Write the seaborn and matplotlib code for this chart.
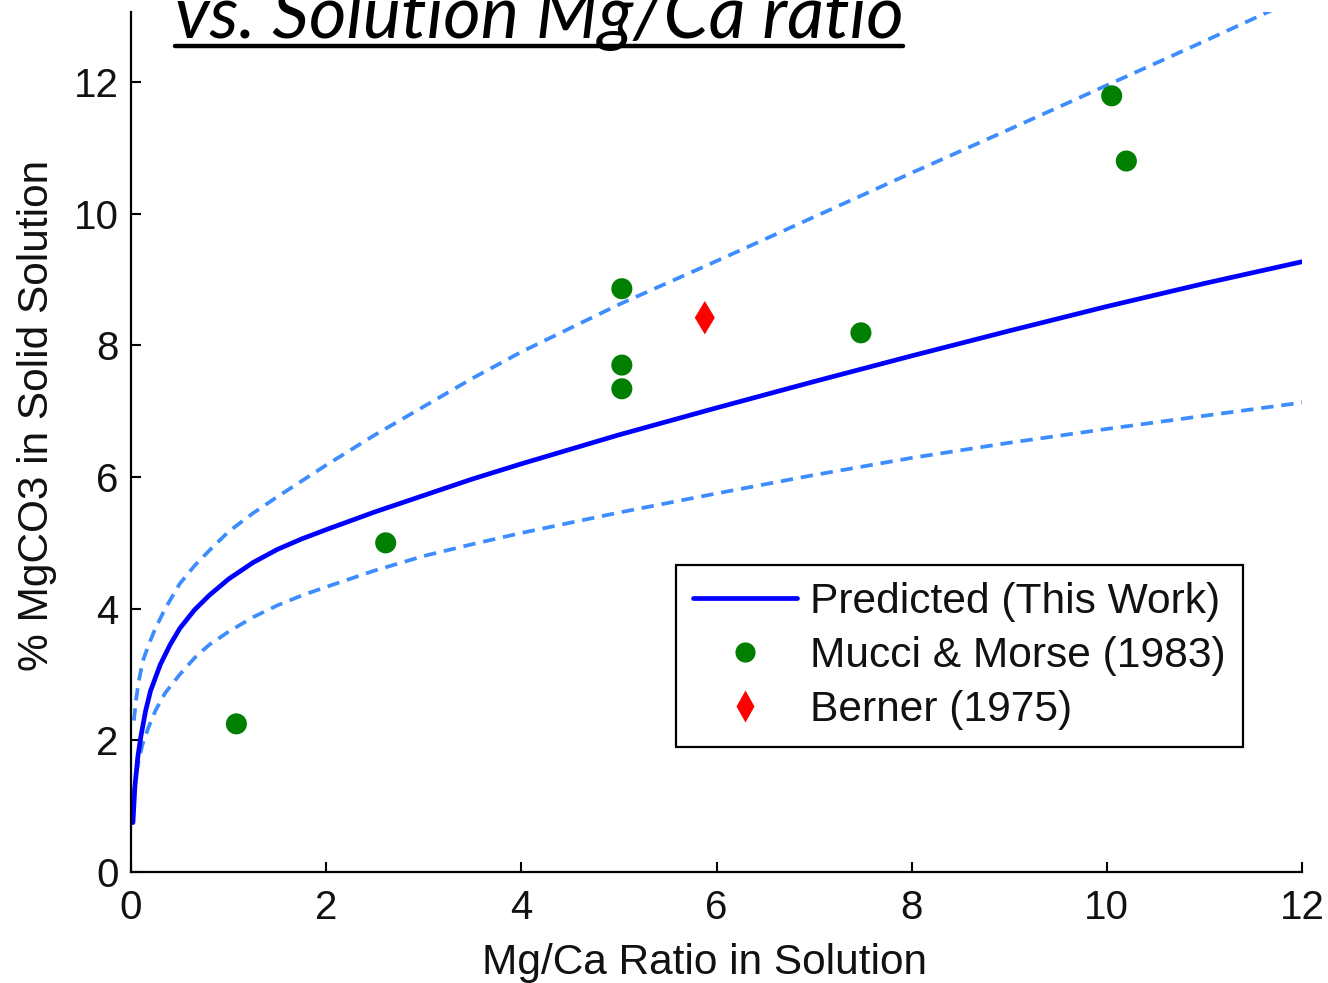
import matplotlib
matplotlib.use("Agg")
import matplotlib.pyplot as plt
import seaborn as sns
from matplotlib.lines import Line2D

# ---------------- data ----------------
ratio_fit = [0.02, 0.04, 0.07, 0.1, 0.15, 0.2, 0.3, 0.4, 0.5, 0.65, 0.8, 1.0, 1.25,
             1.5, 1.75, 2.0, 2.5, 3.0, 3.5, 4.0, 5.0, 6.0, 7.0, 8.0, 9.0, 10.0,
             11.0, 12.0]
predicted = [0.75, 1.3, 1.75, 2.05, 2.45, 2.75, 3.15, 3.45, 3.7, 3.98, 4.2, 4.45,
             4.7, 4.9, 5.06, 5.2, 5.47, 5.72, 5.97, 6.2, 6.64, 7.05, 7.45, 7.84,
             8.22, 8.59, 8.94, 9.27]

ratio_upper = [0.03, 0.05, 0.08, 0.12, 0.18, 0.25, 0.35, 0.5, 0.65, 0.8, 1.0, 1.25,
               1.5, 1.75, 2.0, 2.5, 3.0, 3.5, 4.0, 5.0, 6.0, 7.0, 8.0, 9.0, 10.0,
               11.0, 12.0]
upper_bound = [2.3, 2.6, 2.9, 3.2, 3.45, 3.7, 4.0, 4.38, 4.65, 4.88, 5.17, 5.45,
               5.7, 5.94, 6.18, 6.64, 7.07, 7.5, 7.9, 8.62, 9.28, 9.95, 10.62,
               11.28, 11.95, 12.62, 13.3]

ratio_lower = [0.03, 0.05, 0.08, 0.12, 0.18, 0.25, 0.35, 0.5, 0.65, 0.8, 1.0, 1.25,
               1.5, 1.75, 2.0, 2.5, 3.0, 3.5, 4.0, 5.0, 6.0, 7.0, 8.0, 9.0, 10.0,
               11.0, 12.0]
lower_bound = [1.2, 1.45, 1.7, 1.95, 2.2, 2.45, 2.72, 3.0, 3.25, 3.45, 3.65, 3.87,
               4.05, 4.2, 4.33, 4.58, 4.8, 4.98, 5.15, 5.46, 5.75, 6.03, 6.29, 6.52,
               6.73, 6.93, 7.13]

mucci_ratio = [1.08, 2.61, 5.03, 5.03, 5.03, 7.48, 10.05, 10.2]
mucci_mgco3 = [2.25, 5.0, 8.86, 7.70, 7.34, 8.19, 11.79, 10.80]

berner_ratio = [5.88]
berner_mgco3 = [8.42]

x_ticks = [0, 2, 4, 6, 8, 10, 12]
y_ticks = [0, 2, 4, 6, 8, 10, 12]

legend_labels = ["Predicted (This Work)", "Mucci & Morse (1983)", "Berner (1975)"]

# ---------------- style ----------------
sns.set_theme(style="white")
plt.rcParams["font.family"] = ["Liberation Sans", "DejaVu Sans"]

W, H = 1328, 983
fig = plt.figure(figsize=(W / 100, H / 100), dpi=100)
fig.patch.set_facecolor("white")
ax = fig.add_axes([131 / W, (H - 872) / H, (1302 - 131) / W, (872 - 12) / H])
ax.set_facecolor("white")

blue = "#0000ff"
light = "#3d8dff"
green = "#007f00"
red = "#ff0000"

sns.lineplot(x=ratio_upper, y=upper_bound, ax=ax, color=light, lw=2.7,
             linestyle=(0, (3.3, 2.1)), sort=False, estimator=None)
sns.lineplot(x=ratio_lower, y=lower_bound, ax=ax, color=light, lw=2.7,
             linestyle=(0, (3.3, 2.1)), sort=False, estimator=None)
sns.lineplot(x=ratio_fit, y=predicted, ax=ax, color=blue, lw=3.4,
             sort=False, estimator=None)
sns.scatterplot(x=mucci_ratio, y=mucci_mgco3, ax=ax, color=green, marker="o",
                s=230, edgecolor="none", zorder=5)
sns.scatterplot(x=berner_ratio, y=berner_mgco3, ax=ax, color=red, marker="d",
                s=290, edgecolor="none", zorder=5)

ax.set_xlim(0, 12)
ax.set_ylim(0, 860 / (790 / 12))
ax.set_xticks(x_ticks)
ax.set_yticks(y_ticks)
ax.set_xticklabels([str(t) for t in x_ticks])
ax.set_yticklabels([str(t) for t in y_ticks])

for side in ["top", "right"]:
    ax.spines[side].set_visible(False)
for side in ["left", "bottom"]:
    ax.spines[side].set_color("black")
    ax.spines[side].set_linewidth(1.6)

ax.tick_params(axis="both", which="major", bottom=True, left=True, top=False,
               right=False, direction="in", length=7, width=1.5, colors="black",
               labelsize=29, labelcolor="#111111")
ax.tick_params(axis="y", pad=9)
ax.tick_params(axis="x", pad=12)

ax.set_xlabel("Mg/Ca Ratio in Solution", fontsize=30.5, color="#111111")
ax.set_ylabel("% MgCO3 in Solid Solution", fontsize=30.5, color="#111111")
ax.yaxis.set_label_coords(-0.063, 0.531)
ax.xaxis.set_label_coords(0.49, -0.083)

handles = [
    Line2D([], [], color=blue, lw=3.4),
    Line2D([], [], color=green, marker="o", ls="none", markersize=14.5,
           markeredgecolor="none"),
    Line2D([], [], color=red, marker="d", ls="none", markersize=16,
           markeredgecolor="none"),
]
leg = ax.legend(handles, legend_labels, loc="upper left",
                bbox_to_anchor=(676 / W, 1 - 565 / H), bbox_transform=fig.transFigure,
                borderaxespad=0, fontsize=30.6, frameon=True, fancybox=False,
                handlelength=2.45, handletextpad=0.3, labelspacing=0.33,
                borderpad=0.4)
leg.get_frame().set_edgecolor("black")
leg.get_frame().set_linewidth(1.6)
leg.get_frame().set_facecolor("white")
leg.get_frame().set_alpha(1)
for t in leg.get_texts():
    t.set_color("#111111")

# title (partially cut off at the top of the image, as in the reference)
fig.text(175 / W, 1 - 38 / H, "vs. Solution Mg/Ca ratio", fontsize=52,
         fontstyle="italic", family=["Lato", "DejaVu Sans"], ha="left",
         va="baseline", color="black")
fig.add_artist(Line2D([175 / W, 903 / W], [1 - 46 / H, 1 - 46 / H],
                      transform=fig.transFigure, color="black", lw=3.2))

fig.savefig("out.png", dpi=100, facecolor="white")
